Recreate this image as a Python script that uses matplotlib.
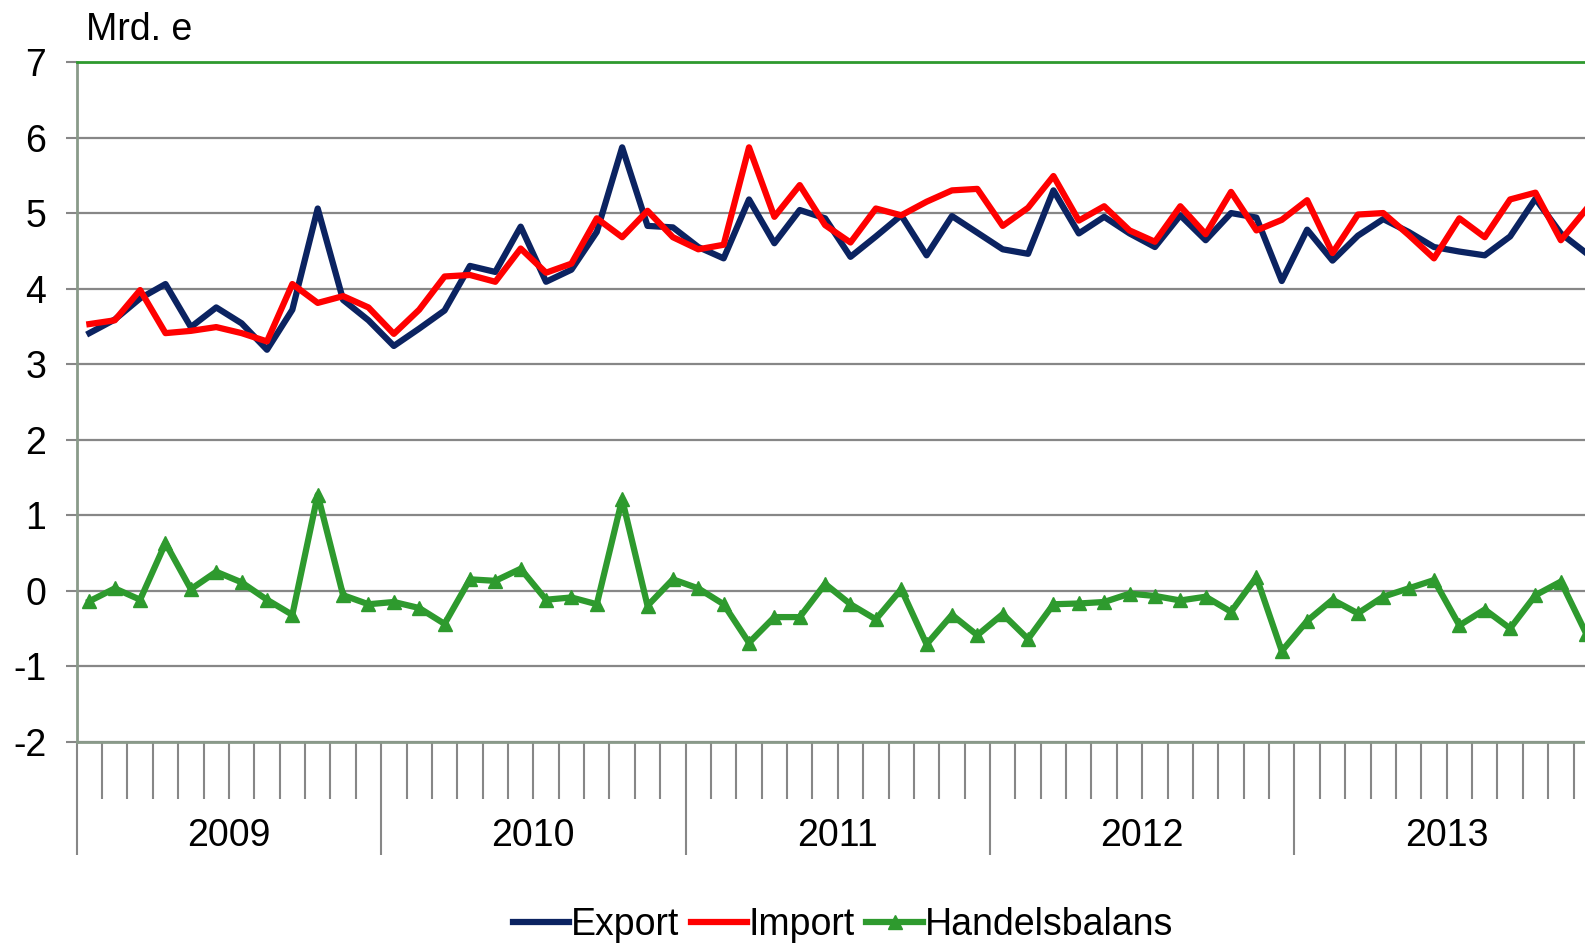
import numpy as np
import matplotlib
matplotlib.use('Agg')
import matplotlib.pyplot as plt
from matplotlib.lines import Line2D
from matplotlib.ticker import MultipleLocator

plt.rcParams['font.family'] = ['Liberation Sans', 'DejaVu Sans']

# monthly values, Jan 2009 .. Dec 2013 (Mrd. e)
years = ['2009', '2010', '2011', '2012', '2013']
export = [3.41, 3.59, 3.87, 4.06, 3.49, 3.75, 3.54, 3.19, 3.72, 5.06, 3.85, 3.58,
          3.24, 3.47, 3.71, 4.30, 4.22, 4.82, 4.09, 4.25, 4.75, 5.87, 4.83, 4.81,
          4.55, 4.40, 5.18, 4.60, 5.04, 4.93, 4.42, 4.69, 4.97, 4.44, 4.96, 4.74,
          4.52, 4.46, 5.30, 4.73, 4.95, 4.73, 4.55, 4.97, 4.64, 5.00, 4.94, 4.10,
          4.78, 4.37, 4.70, 4.92, 4.75, 4.55, 4.49, 4.44, 4.69, 5.19, 4.73, 4.47]
imports = [3.53, 3.58, 3.98, 3.41, 3.44, 3.49, 3.41, 3.30, 4.06, 3.81, 3.90, 3.75,
           3.40, 3.72, 4.16, 4.18, 4.09, 4.53, 4.21, 4.33, 4.93, 4.68, 5.03, 4.68,
           4.52, 4.58, 5.87, 4.95, 5.37, 4.84, 4.61, 5.06, 4.97, 5.15, 5.30, 5.32,
           4.83, 5.07, 5.49, 4.90, 5.09, 4.77, 4.62, 5.09, 4.72, 5.28, 4.77, 4.91,
           5.17, 4.47, 4.98, 5.00, 4.71, 4.40, 4.93, 4.68, 5.18, 5.27, 4.64, 5.05]
balance = [-0.14, 0.03, -0.12, 0.63, 0.02, 0.25, 0.11, -0.12, -0.32, 1.27, -0.06, -0.18,
           -0.15, -0.23, -0.44, 0.15, 0.13, 0.29, -0.12, -0.09, -0.18, 1.21, -0.20, 0.15,
           0.03, -0.18, -0.69, -0.35, -0.35, 0.09, -0.18, -0.38, 0.02, -0.71, -0.32, -0.59,
           -0.31, -0.64, -0.18, -0.17, -0.15, -0.04, -0.07, -0.13, -0.08, -0.28, 0.18, -0.80,
           -0.40, -0.12, -0.30, -0.08, 0.03, 0.14, -0.46, -0.25, -0.50, -0.06, 0.12, -0.57]

W, H = 1585, 943
fig = plt.figure(figsize=(W / 100, H / 100), dpi=100)
x0, x1 = 76.7, 1585
ytop, ybot = 62, 741.7
ax = fig.add_axes([x0 / W, 1 - ybot / H, (x1 - x0) / W, (ybot - ytop) / H])

month_px = 25.37
x = np.arange(len(export)) + 0.5

navy = '#0b2361'
red = '#ff0000'
green = '#2e9a2e'
grid = '#878787'
axcol = '#8a9a8a'
fs = 27
lw = 4.5

ax.plot(x, export, color=navy, lw=lw, zorder=3)
ax.plot(x, imports, color=red, lw=lw, zorder=4)
ax.plot(x, balance, color=green, lw=lw, marker='^', ms=10, zorder=5)

ax.yaxis.set_major_locator(MultipleLocator(1))
ax.yaxis.grid(True, color=grid, lw=1.6)
ax.set_axisbelow(True)

ax.spines['right'].set_visible(False)
ax.spines['top'].set_color(green)
ax.spines['top'].set_linewidth(2)
ax.spines['left'].set_color(axcol)
ax.spines['left'].set_linewidth(2)
ax.spines['bottom'].set_color(axcol)
ax.spines['bottom'].set_linewidth(2)

ax.set_yticks(range(-2, 8))
ax.set_yticklabels([str(v) for v in range(-2, 8)])
ax.tick_params(axis='y', direction='out', length=8, width=1.5, color=grid,
               labelsize=fs, pad=14)

ax.set_xticks(np.arange(0, 60, 12))
ax.set_xticks(np.arange(0, 60, 1), minor=True)
ax.tick_params(axis='x', which='major', direction='out', length=81, width=1.5,
               color=grid, labelbottom=False)
ax.tick_params(axis='x', which='minor', direction='out', length=41, width=1.5,
               color=grid)

ax.set_xlim(0, (x1 - x0) / month_px)
ax.set_ylim(-2, 7)

trans = ax.get_xaxis_transform()
for k, yr in enumerate(years):
    ax.text(6 + 12 * k, -(836 - ybot) / (ybot - ytop), yr, transform=trans,
            ha='center', va='center', fontsize=fs, clip_on=False)

fig.text(86 / W, 1 - 30 / H, 'Mrd. e', fontsize=fs, ha='left', va='center')

handles = [Line2D([], [], color=navy, lw=lw),
           Line2D([], [], color=red, lw=lw),
           Line2D([], [], color=green, lw=lw, marker='^', ms=10)]
fig.legend(handles, ['Export', 'Import', 'Handelsbalans'], loc='center',
           bbox_to_anchor=(843 / W, 1 - 925 / H), ncol=3, frameon=False,
           fontsize=fs, handlelength=1.5, handletextpad=0.05, columnspacing=0.3,
           borderpad=0, borderaxespad=0)

fig.savefig('out.png', dpi=100)
